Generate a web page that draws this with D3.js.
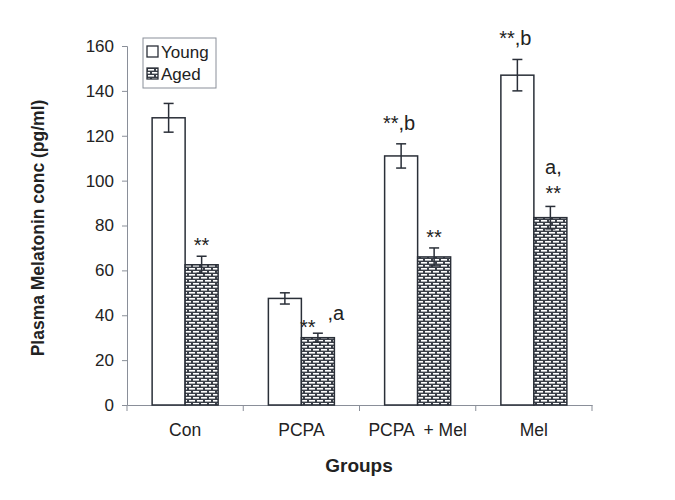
<!DOCTYPE html>
<html><head><meta charset="utf-8">
<script src="https://cdn.jsdelivr.net/npm/d3@7/dist/d3.min.js"></script>
<style>body{margin:0;background:#fff}svg{display:block;font-family:"Liberation Sans",Arial,sans-serif}</style>
</head><body><svg id="c" width="675" height="500"></svg>
<script>
const categories = ["Con", "PCPA", "PCPA  + Mel", "Mel"];
const series = ["Young", "Aged"];
const youngValues = [128, 47.5, 111, 147];
const youngErrors = [6.4, 2.5, 5.4, 7];
const agedValues = [62.5, 30, 66, 83.5];
const agedErrors = [3.8, 2, 4, 5];
const youngLabels = ["", "", "**,b", "**,b"];
const agedLabels = ["**", "**|,a", "**", "a,|**"];
const yTicks = [0, 20, 40, 60, 80, 100, 120, 140, 160];

const svg = d3.select("#c");
const defs = svg.append("defs");
const pat = defs.append("pattern").attr("id","brick").attr("patternUnits","userSpaceOnUse")
  .attr("width",8).attr("height",6);
pat.append("rect").attr("width",8).attr("height",6).attr("fill","#3a3f48");
pat.append("rect").attr("x",1).attr("y",1).attr("width",6).attr("height",1.6).attr("fill","#fff");
pat.append("rect").attr("x",5).attr("y",4).attr("width",6).attr("height",1.6).attr("fill","#fff");
pat.append("rect").attr("x",-3).attr("y",4).attr("width",6).attr("height",1.6).attr("fill","#fff");

const m = {l:127, r:592, t:46, b:405};
const x = d3.scaleBand().domain(categories).range([m.l, m.r]).paddingInner(0).paddingOuter(0);
const y = d3.scaleLinear().domain([0,160]).range([m.b, m.t]);
const xs = d3.scaleBand().domain(series).range([0, 66]);
const offset = (x.bandwidth()-66)/2;

// axes
const ya = svg.append("g").attr("transform",`translate(${m.l},0)`)
  .call(d3.axisLeft(y).tickValues(yTicks).tickSize(5).tickPadding(8));
ya.select(".domain").attr("stroke","#8a8f99");
ya.selectAll(".tick line").attr("stroke","#8a8f99");
ya.selectAll(".tick text").attr("font-size",17).attr("fill","#222").attr("font-family","Liberation Sans, Arial, sans-serif");

const xa = svg.append("g").attr("transform",`translate(0,${m.b})`)
  .call(d3.axisBottom(x).tickSize(0).tickPadding(19));
xa.select(".domain").attr("stroke","#8a8f99");
xa.selectAll(".tick text").attr("font-size",17.5).attr("fill","#222").attr("font-family","Liberation Sans, Arial, sans-serif").style("white-space","pre").attr("xml:space","preserve");
// boundary ticks
const bounds = categories.map(c=>x(c)).concat([m.r]);
svg.append("g").selectAll("line").data(bounds).join("line")
  .attr("x1",d=>d).attr("x2",d=>d).attr("y1",m.b).attr("y2",m.b+6).attr("stroke","#8a8f99");

const data = [];
categories.forEach((c,i)=>{
  data.push({c, s:"Young", v:youngValues[i], e:youngErrors[i], lab:youngLabels[i]});
  data.push({c, s:"Aged", v:agedValues[i], e:agedErrors[i], lab:agedLabels[i]});
});
const bx = d => x(d.c)+offset+xs(d.s);
const bw = xs.bandwidth();

svg.append("g").selectAll("rect").data(data).join("rect")
  .attr("x",bx).attr("y",d=>y(d.v)).attr("width",bw).attr("height",d=>m.b-y(d.v))
  .attr("fill",d=>d.s==="Young"?"#fff":"url(#brick)").attr("stroke","#2a2f38").attr("stroke-width",1.5);

const eb = svg.append("g").attr("stroke","#2a2f38").attr("stroke-width",1.5);
data.forEach(d=>{
  const cx = bx(d)+bw/2;
  eb.append("line").attr("x1",cx).attr("x2",cx).attr("y1",y(d.v+d.e)).attr("y2",y(d.v-d.e));
  eb.append("line").attr("x1",cx-5).attr("x2",cx+5).attr("y1",y(d.v+d.e)).attr("y2",y(d.v+d.e));
  eb.append("line").attr("x1",cx-5).attr("x2",cx+5).attr("y1",y(d.v-d.e)).attr("y2",y(d.v-d.e));
});

// annotations
const ann = svg.append("g").attr("fill","#222");
const AST = 20, LET = 20;
function drawLabel(d){
  if(!d.lab) return;
  const cx = bx(d)+bw/2;
  const top = y(d.v+d.e);
  if(d.lab==="**"){
    ann.append("text").attr("x",cx).attr("y",top-4).attr("text-anchor","middle").attr("font-size",AST).text("**");
  } else if(d.lab==="**,b"){
    const t = ann.append("text").attr("x",cx-2).attr("y",top-14).attr("text-anchor","middle");
    t.append("tspan").attr("font-size",AST).text("**");
    t.append("tspan").attr("font-size",LET).text(",b");
  } else if(d.lab==="**|,a"){
    ann.append("text").attr("x",cx-10).attr("y",top+1).attr("text-anchor","middle").attr("font-size",AST).text("**");
    ann.append("text").attr("x",cx+18).attr("y",top-13).attr("text-anchor","middle").attr("font-size",LET).text(",a");
  } else if(d.lab==="a,|**"){
    ann.append("text").attr("x",cx+3).attr("y",top-32).attr("text-anchor","middle").attr("font-size",LET).text("a,");
    ann.append("text").attr("x",cx+3).attr("y",top-6).attr("text-anchor","middle").attr("font-size",AST).text("**");
  }
}
data.forEach(drawLabel);

// axis titles
svg.append("text").attr("transform","translate(44,228) rotate(-90)").attr("text-anchor","middle")
  .attr("font-size",17.5).attr("font-weight","bold").attr("fill","#222").text("Plasma Melatonin conc (pg/ml)");
svg.append("text").attr("x",359).attr("y",472).attr("text-anchor","middle")
  .attr("font-size",19).attr("font-weight","bold").attr("fill","#222").text("Groups");

// legend
const lg = svg.append("g").attr("transform","translate(143,38)");
lg.append("rect").attr("width",73).attr("height",50).attr("fill","#fff").attr("stroke","#8a8f99");
series.forEach((s,i)=>{
  const g = lg.append("g").attr("transform",`translate(4,${8+i*22})`);
  g.append("rect").attr("width",11).attr("height",11).attr("fill",s==="Young"?"#fff":"url(#brick)").attr("stroke","#2a2f38").attr("stroke-width",1.3);
  g.append("text").attr("x",14).attr("y",11.5).attr("font-size",17).attr("fill","#222").text(s);
});
</script></body></html>
